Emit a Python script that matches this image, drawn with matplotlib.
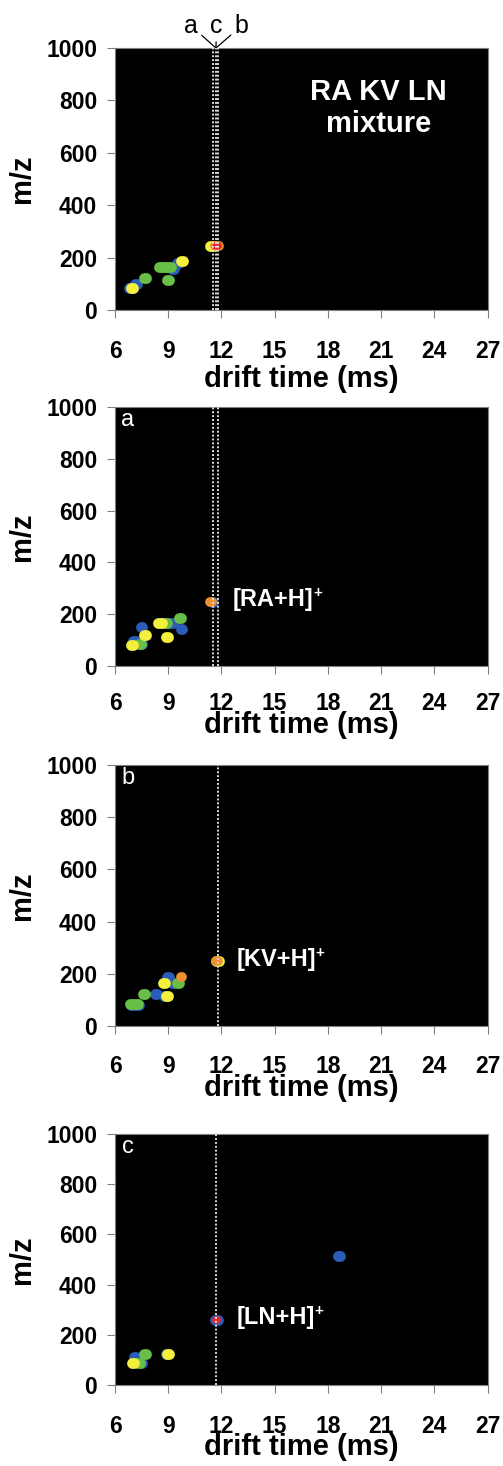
import matplotlib
matplotlib.use('Agg')
import matplotlib.pyplot as plt

plt.rcParams['font.family'] = ['Liberation Sans', 'DejaVu Sans']

# ---------------- data ----------------
drift_ticks = [6, 9, 12, 15, 18, 21, 24, 27]
mz_ticks = [0, 200, 400, 600, 800, 1000]

# intensity levels: 0 blue, 1 green, 2 yellow, 3 orange, 4 red
mix_t0 = [6.80, 7.10, 6.92, 7.64, 9.20, 8.48, 8.93, 9.50, 9.70, 11.33, 11.62, 11.68]
mix_t1 = [7.00, 7.25, 7.02, 7.74, 9.35, 9.15, 9.03, 9.60, 9.85, 11.60, 11.84, 11.80]
mix_mz = [85, 98, 84, 122, 158, 164, 115, 178, 188, 245, 245, 245]
mix_lvl = [0, 0, 2, 1, 0, 1, 1, 0, 2, 2, 3, 4]

a_t0 = [7.00, 7.45, 7.36, 6.89, 7.45, 7.64, 8.70, 8.85, 8.45, 8.86, 9.70, 9.61, 11.45, 11.38]
a_t1 = [7.18, 7.55, 7.46, 6.99, 7.55, 7.74, 9.35, 8.95, 8.65, 8.96, 9.80, 9.71, 11.52, 11.48]
a_mz = [96, 86, 85, 81, 149, 120, 165, 165, 166, 113, 142, 187, 248, 246]
a_lvl = [0, 0, 1, 2, 0, 2, 0, 1, 2, 2, 0, 1, 0, 3]

b_t0 = [6.90, 6.85, 7.58, 8.26, 8.95, 9.22, 8.71, 9.52, 9.70, 8.77, 8.86, 11.70, 11.72]
b_t1 = [7.35, 7.28, 7.68, 8.36, 9.05, 9.32, 8.81, 9.62, 9.80, 8.87, 8.96, 11.84, 11.82]
b_mz = [82, 84, 123, 123, 189, 165, 166, 166, 189, 115, 115, 249, 249]
b_lvl = [0, 1, 1, 0, 0, 0, 2, 1, 3, 0, 2, 2, 3]

c_t0 = [7.08, 7.45, 7.32, 6.95, 7.64, 8.86, 8.92, 11.66, 11.69, 18.58]
c_t1 = [7.18, 7.55, 7.42, 7.05, 7.74, 8.96, 9.02, 11.78, 11.75, 18.68]
c_mz = [110, 89, 89, 89, 125, 122, 122, 258, 258, 512]
c_lvl = [0, 0, 1, 2, 1, 0, 2, 0, 4, 0]

mix_lines = [11.53, 11.69, 11.82]
a_lines = [11.53, 11.78]
b_lines = [11.80]
c_lines = [11.72]

ion_labels = ['[RA+H]', '[KV+H]', '[LN+H]']
ion_label_x = [12.65, 12.87, 12.87]
ion_label_mz = [258, 253, 268]
panel_letters = ['a', 'b', 'c']
marker_letters = ['a', 'c', 'b']

# ---------------- styling ----------------
level_colors = ['#2b5cb8', '#68be46', '#f3ef3c', '#ee912e', '#e3282e']
level_size = [1.0, 1.0, 1.0, 0.9, 0.72]
BLOB_LW = 7.8  # points

W, H = 503, 1466
fig = plt.figure(figsize=(W / 100, H / 100), dpi=100)

# (top px, bottom px) of each panel
panel_px = [(48, 310), (407, 666), (765, 1026), (1134, 1385)]
tick_top_px = [30, 26, 29, 30]      # tick-label top below axis
xlabel_top_px = [55, 45, 48, 48]    # x-label top below axis
left_px, right_px = 115, 487.5
TICK_LEN_PX = 8

panels = [
    (mix_t0, mix_t1, mix_mz, mix_lvl, mix_lines),
    (a_t0, a_t1, a_mz, a_lvl, a_lines),
    (b_t0, b_t1, b_mz, b_lvl, b_lines),
    (c_t0, c_t1, c_mz, c_lvl, c_lines),
]

axes = []
for i, ((top, bot), (t0s, t1s, mzs, lvls, vlines)) in enumerate(zip(panel_px, panels)):
    ax = fig.add_axes([left_px / W, 1 - bot / H, (right_px - left_px) / W, (bot - top) / H])
    axes.append(ax)
    ax.set_facecolor('black')
    ax.set_xlim(6, 27)
    ax.set_ylim(0, 1000)
    ax.set_xticks(drift_ticks)
    ax.set_yticks(mz_ticks)
    for s in ax.spines.values():
        s.set_color('#808080')
        s.set_linewidth(0.8)
    ax.tick_params(axis='both', direction='out', length=TICK_LEN_PX * 0.72, width=0.8,
                   color='#808080', labelsize=16.5)
    ax.tick_params(axis='x', pad=(tick_top_px[i] - TICK_LEN_PX) * 0.72)
    ax.tick_params(axis='y', pad=7)
    for lab in ax.get_xticklabels() + ax.get_yticklabels():
        lab.set_fontweight('bold')

    for t0, t1, mz, lv in zip(t0s, t1s, mzs, lvls):
        ax.plot([t0, t1], [mz, mz], color=level_colors[lv], lw=BLOB_LW * level_size[lv],
                solid_capstyle='round', zorder=2 + lv * 0.01)

    for xv in vlines:
        ax.axvline(xv, color='#dcdcdc', lw=1.4, ls=(0, (1.0, 1.0)), zorder=5)

    ph = bot - top
    ax.set_xlabel('drift time (ms)', fontsize=21, fontweight='bold')
    ax.xaxis.set_label_coords(0.5, -xlabel_top_px[i] / ph)
    ax.set_ylabel('m/z', fontsize=21, fontweight='bold')
    ax.yaxis.set_label_coords((22 - left_px) / (right_px - left_px), 0.5)
    ax.yaxis.label.set_verticalalignment('center')

    if i > 0:
        ax.text(0.035, 1 - 13 / ph, panel_letters[i - 1], transform=ax.transAxes,
                color='white', fontsize=17, ha='center', va='center')
        t = ax.text(ion_label_x[i - 1], ion_label_mz[i - 1], ion_labels[i - 1],
                    color='white', fontsize=17, fontweight='bold', ha='left', va='center')
        ax.annotate('+', xy=(1, 1), xycoords=t, xytext=(-0.5, -6.5), textcoords='offset points',
                    color='white', fontsize=11, fontweight='bold', ha='left', va='baseline')

# top panel extras
ax0 = axes[0]
ax0.text(20.86, 771, 'RA KV LN\nmixture', color='white', fontsize=21, fontweight='bold',
         ha='center', va='center', linespacing=1.2)
conv_x = mix_lines[1]
for letter, dx in zip(marker_letters, [-18, 0.5, 18.5]):
    ax0.annotate(letter, xy=(conv_x, 1000), xytext=(dx, 11), textcoords='offset points',
                 fontsize=18, ha='center', va='baseline', color='black',
                 annotation_clip=False,
                 arrowprops=dict(arrowstyle='-', lw=0.9, color='black', shrinkA=1, shrinkB=0))

fig.savefig('out.png', dpi=100, facecolor='white')
